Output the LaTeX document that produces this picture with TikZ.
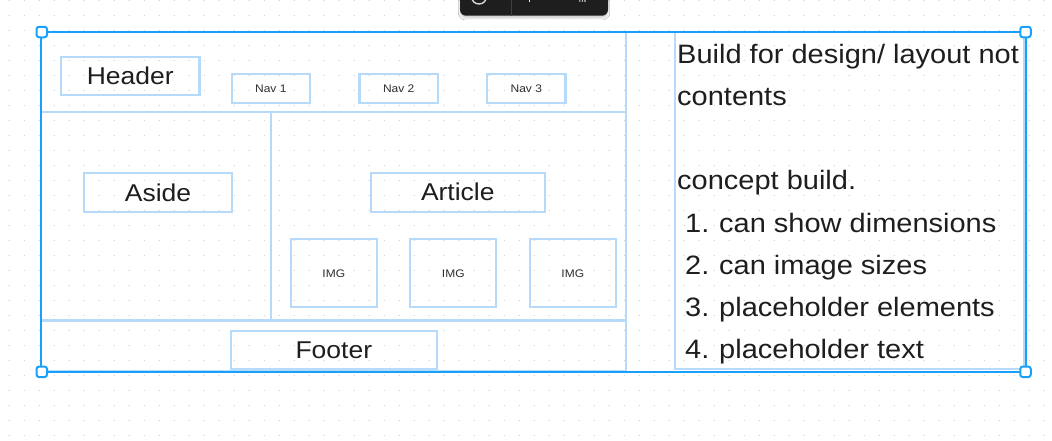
\documentclass[tikz,border=0pt]{standalone}
\usepackage{fontspec}
\usetikzlibrary{shadows.blur}
\newfontfamily\uifont{Liberation Sans}[FakeStretch=1.09]
\definecolor{selblue}{HTML}{18A0FB}
\definecolor{wireblue}{HTML}{B8DAFA}
\definecolor{ink}{HTML}{1E1E1E}
\definecolor{inksoft}{HTML}{2E2E2E}
\definecolor{dotgray}{HTML}{CDCDCD}
\definecolor{toolbar}{HTML}{1E1E1E}

\begin{document}
\begin{tikzpicture}[x=1pt,y=-1pt,
  wire/.style={draw=wireblue, line width=2.2pt},
  label/.style={wire, inner sep=0pt, text=ink,
    font=\uifont\fontsize{24.3}{29}\selectfont, text height=17.4pt, text depth=0pt},
  small/.style={wire, inner sep=0pt, text=inksoft,
    font=\uifont\fontsize{11}{13}\selectfont, text height=7.9pt, text depth=0pt},
  note/.style={anchor=base west, inner sep=0pt, text=ink,
    font=\uifont\fontsize{26.6}{32}\selectfont},
  handle/.style={draw=selblue, fill=white, line width=2pt, rounded corners=2.5pt,
    minimum size=10.5pt, inner sep=0pt}]

% canvas and dot grid
\useasboundingbox (0,0) rectangle (1052,440);
\fill[white] (0,0) rectangle (1052,440);
\foreach \i in {0,...,69}
  \foreach \j in {0,...,29}
    \fill[dotgray] (9.3+15*\i, 0.5+15*\j) circle (0.65pt);

% floating toolbar
\fill[toolbar, rounded corners=6pt,
  blur shadow={shadow blur steps=6, shadow opacity=18, shadow xshift=0pt, shadow yshift=-2.5pt}]
  (460,-12) rectangle (608,15.7);
\draw[white!85!black, line width=1.4pt] (479,-3.5) circle (7.5pt);
\draw[white!25!black, line width=1pt] (511.7,-12) -- (511.7,15.7);
\draw[white, line width=1pt] (529.3,-6) -- (529.3,2);
\foreach \x in {579.8,582.4,585.0}
  \fill[white] (\x,1) circle (0.8pt);

% page layout wireframe
\draw[wire] (41,32) rectangle (626,371);
\draw[wire] (41,112) -- (626,112);
\draw[wire] (271,112) -- (271,320.5);
\draw[wire] (41,320.5) -- (626,320.5);

\node[label, minimum width=138.5pt, minimum height=38.5pt] (header) at (130.3,76) {Header};
\node[small, minimum width=78.3pt, minimum height=29pt] (nav1) at (270.8,88.2) {Nav 1};
\node[small, minimum width=78.3pt, minimum height=29pt] (nav2) at (398.7,88.2) {Nav 2};
\node[small, minimum width=78.3pt, minimum height=29pt] (nav3) at (526.3,88.2) {Nav 3};

\node[label, minimum width=147.4pt, minimum height=38.7pt] (aside) at (158,192.3) {Aside};
\node[label, minimum width=174.3pt, minimum height=39pt] (article) at (457.8,192.2) {Article};

\node[small, minimum width=85.7pt, minimum height=68pt] (img1) at (333.8,273.3) {IMG};
\node[small, minimum width=86pt, minimum height=68pt] (img2) at (453.3,273.3) {IMG};
\node[small, minimum width=85.7pt, minimum height=68pt] (img3) at (572.8,273.3) {IMG};

\node[label, minimum width=205.7pt, minimum height=38pt] (footer) at (333.8,350) {Footer};

% notes text box
\draw[wire] (675,32) rectangle (1024,369);
\node[note] (line1) at (677,63.5) {Build for design/ layout not};
\node[note] (line2) at (677,105.5) {contents};
\node[note] (line3) at (677,189.5) {concept build.};
\node[note] (num1) at (685,232) {1.};
\node[note] (item1) at (719,232) {can show dimensions};
\node[note] (num2) at (685,274) {2.};
\node[note] (item2) at (719,274) {can image sizes};
\node[note] (num3) at (685,316) {3.};
\node[note] (item3) at (719,316) {placeholder elements};
\node[note] (num4) at (685,358) {4.};
\node[note] (item4) at (719,358) {placeholder text};

% selection frame with corner handles
\draw[selblue, line width=2pt] (41,32) rectangle (1026,371.5);
\node[handle] (hnw) at (41.8,32) {};
\node[handle] (hne) at (1025.5,32) {};
\node[handle] (hsw) at (41.8,371.8) {};
\node[handle] (hse) at (1025.5,371.8) {};
\end{tikzpicture}
\end{document}
